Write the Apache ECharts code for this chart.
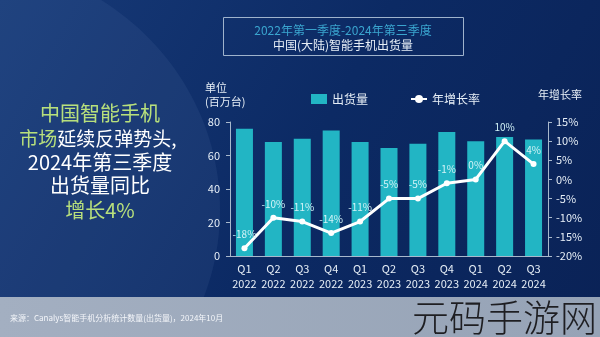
<!DOCTYPE html>
<html><head><meta charset="utf-8">
<script src="https://cdn.jsdelivr.net/npm/echarts@6/dist/echarts.min.js"></script>
<style>html,body{margin:0;padding:0;}#c{width:600px;height:337px;}</style>
</head><body><div id="c"></div>
<script>
const categories = ['Q1\n2022','Q2\n2022','Q3\n2022','Q4\n2022','Q1\n2023','Q2\n2023','Q3\n2023','Q4\n2023','Q1\n2024','Q2\n2024','Q3\n2024'];
const shipments = [76, 68, 70, 75, 68, 64.5, 67, 74, 68.5, 71, 69.5];
const growth = [-18, -10, -11, -14, -11, -5, -5, -1, 0, 10, 4];
const leftTicks = [0, 20, 40, 60, 80];
const rightTicks = [-20, -15, -10, -5, 0, 5, 10, 15];

const FONT = '"Noto Sans CJK SC", "Noto Sans", sans-serif';
const chart = echarts.init(document.getElementById('c'));
chart.setOption({
  backgroundColor: {
    type: 'linear', x: 0, y: 0, x2: 1, y2: 1,
    colorStops: [{offset: 0, color: '#173a78'}, {offset: 0.5, color: '#0c2a64'}, {offset: 1, color: '#0a2256'}]
  },
  textStyle: {fontFamily: FONT},
  graphic: [
    {type: 'ellipse', shape: {cx: -40, cy: 210, rx: 260, ry: 250}, style: {fill: 'rgba(120,150,200,0.10)'}, z: -10, silent: true},
    {type: 'rect', shape: {x: 0, y: 297, width: 600, height: 40},
      style: {fill: {type: 'linear', x: 0, y: 0, x2: 1, y2: 0, colorStops: [{offset: 0, color: '#a3afc1'}, {offset: 1, color: '#96a3b6'}]}}, z: -5},
    {type: 'rect', shape: {x: 223.5, y: 17.5, width: 240, height: 38}, style: {fill: 'rgba(0,0,0,0)', stroke: '#9fb3cc', lineWidth: 1}},
    {type: 'text', x: 343, y: 30, style: {text: '2022年第一季度-2024年第三季度', fill: '#3aa5cf', font: '12px ' + FONT, textAlign: 'center', textVerticalAlign: 'middle'}},
    {type: 'text', x: 343, y: 45, style: {text: '中国(大陆)智能手机出货量', fill: '#e6eef6', font: '12px ' + FONT, textAlign: 'center', textVerticalAlign: 'middle'}},
    {type: 'text', x: 100, y: 113, style: {text: '中国智能手机', fill: '#b8e07c', font: '20px ' + FONT, textAlign: 'center', textVerticalAlign: 'middle'}},
    {type: 'text', x: 98, y: 139, style: {text: '{g|市场}{w|延续反弹势头,}', textAlign: 'center', textVerticalAlign: 'middle',
      rich: {g: {fill: '#b8e07c', font: '19px ' + FONT}, w: {fill: '#ffffff', font: '19px ' + FONT}}}},
    {type: 'text', x: 100, y: 162, style: {text: '2024年第三季度', fill: '#ffffff', font: '20px ' + FONT, textAlign: 'center', textVerticalAlign: 'middle'}},
    {type: 'text', x: 100, y: 185, style: {text: '出货量同比', fill: '#ffffff', font: '20px ' + FONT, textAlign: 'center', textVerticalAlign: 'middle'}},
    {type: 'text', x: 100, y: 210, style: {text: '增长4%', fill: '#b8e07c', font: '20px ' + FONT, textAlign: 'center', textVerticalAlign: 'middle'}},
    {type: 'text', x: 205, y: 88, style: {text: '单位', fill: '#e6eef6', font: '11px ' + FONT, textVerticalAlign: 'middle'}},
    {type: 'text', x: 205, y: 102, style: {text: '(百万台)', fill: '#e6eef6', font: '11px ' + FONT, textVerticalAlign: 'middle'}},
    {type: 'text', x: 538, y: 95, style: {text: '年增长率', fill: '#e6eef6', font: '11px ' + FONT, textVerticalAlign: 'middle'}},
    {type: 'text', x: 10, y: 318, style: {text: '来源：Canalys智能手机分析统计数量(出货量)，2024年10月', fill: '#f4f6fa', font: '8px ' + FONT, textVerticalAlign: 'middle'}},
    {type: 'text', x: 412, y: 318, style: {text: '元码手游网', fill: '#1e1e22', font: '300 37px ' + FONT, textVerticalAlign: 'middle'}}
  ],
  legend: {
    top: 88, left: 306, itemGap: 42, itemWidth: 16, itemHeight: 10,
    textStyle: {color: '#e6eef6', fontSize: 12, fontFamily: FONT},
    data: [{name: '出货量', icon: 'rect'}, {name: '年增长率'}]
  },
  grid: {left: 230, right: 52, top: 122, bottom: 81},
  xAxis: {
    type: 'category', data: categories,
    axisLine: {lineStyle: {color: '#a8b8cc'}}, axisTick: {show: false},
    axisLabel: {color: '#e6eef6', fontSize: 11, lineHeight: 15, margin: 5, interval: 0}
  },
  yAxis: [
    {type: 'value', min: 0, max: 80, interval: 20, splitLine: {show: false},
      axisLine: {show: true, lineStyle: {color: '#a8b8cc'}}, axisTick: {show: true, length: 4, lineStyle: {color: '#a8b8cc'}},
      axisLabel: {color: '#e6eef6', fontSize: 11, margin: 10}},
    {type: 'value', min: -20, max: 15, interval: 5, splitLine: {show: false},
      axisLine: {show: true, lineStyle: {color: '#a8b8cc'}}, axisTick: {show: true, length: 4, lineStyle: {color: '#a8b8cc'}},
      axisLabel: {color: '#e6eef6', fontSize: 11, margin: 8, formatter: '{value}%'}}
  ],
  series: [
    {name: '出货量', type: 'bar', data: shipments, barWidth: 17, yAxisIndex: 0,
      itemStyle: {color: '#22b5c4'}},
    {name: '年增长率', type: 'line', data: growth, yAxisIndex: 1,
      lineStyle: {color: '#ffffff', width: 3}, itemStyle: {color: '#ffffff'},
      symbol: 'circle', symbolSize: 6,
      label: {show: true, position: 'top', distance: 6, formatter: '{c}%', color: '#d2f3f7', fontSize: 10}}
  ]
});
</script></body></html>
